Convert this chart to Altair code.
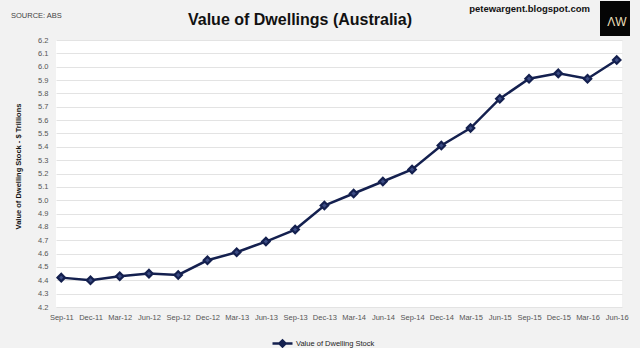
import altair as alt
import pandas as pd

quarters = ["Sep-11", "Dec-11", "Mar-12", "Jun-12", "Sep-12", "Dec-12", "Mar-13",
            "Jun-13", "Sep-13", "Dec-13", "Mar-14", "Jun-14", "Sep-14", "Dec-14",
            "Mar-15", "Jun-15", "Sep-15", "Dec-15", "Mar-16", "Jun-16"]
values = [4.42, 4.40, 4.43, 4.45, 4.44, 4.55, 4.61, 4.69, 4.78, 4.96, 5.05, 5.14,
          5.23, 5.41, 5.54, 5.76, 5.91, 5.95, 5.91, 6.05]
series_name = "Value of Dwelling Stock"
y_ticks = [4.2, 4.3, 4.4, 4.5, 4.6, 4.7, 4.8, 4.9, 5.0, 5.1, 5.2, 5.3, 5.4, 5.5,
           5.6, 5.7, 5.8, 5.9, 6.0, 6.1, 6.2]

df = pd.DataFrame({"quarter": quarters, "value": values, "series": series_name})

FONT = "Liberation Sans Narrow, Liberation Sans, Arial"
navy = "#14204f"

x_enc = alt.X("quarter:O", sort=quarters,
              scale=alt.Scale(type="point", padding=0.18),
              axis=alt.Axis(title=None, labelAngle=0, labelFont=FONT, labelFontSize=7.5,
                            labelColor="#555555", ticks=False, domain=False,
                            labelPadding=6, grid=False))
y_enc = alt.Y("value:Q",
              scale=alt.Scale(domain=[4.2, 6.2], nice=False, zero=False),
              axis=alt.Axis(values=y_ticks, format=".1f", grid=True, gridColor="#e3e3e3",
                            gridWidth=1, domain=False, ticks=False, labelPadding=8,
                            labelFont=FONT, labelFontSize=7.5, labelColor="#555555",
                            title="Value of Dwelling Stock - $ Trillions",
                            titleFont=FONT, titleFontSize=7.5, titleFontWeight="bold",
                            titleColor="#111111", titleX=-38, titleY=126,
                            titleAlign="center", titleBaseline="middle"))

base = alt.Chart(df)

line = base.mark_line(strokeWidth=2.5).encode(
    x=x_enc, y=y_enc,
    color=alt.Color("series:N", scale=alt.Scale(range=[navy]),
                    legend=alt.Legend(title=None, orient="none", legendX=215, legendY=292,
                                      symbolType="M-1,0L1,0M-0.3,0L0,-0.3L0.3,0L0,0.3Z",
                                      symbolSize=400, symbolStrokeWidth=2.5,
                                      symbolFillColor=navy, symbolStrokeColor=navy,
                                      labelFont=FONT, labelFontSize=7.5,
                                      labelColor="#222222", labelOffset=2)))
points = base.mark_point(shape="diamond", filled=False, size=55, strokeWidth=2.2,
                         color=navy, fill="#3d4d85", fillOpacity=1).encode(x=x_enc, y=y_enc)

deco = pd.DataFrame({"k": [0]})
dbase = alt.Chart(deco)
title = dbase.mark_text(text="Value of Dwellings (Australia)", font=FONT, fontSize=16,
                        fontWeight="bold", color="#111111", align="center",
                        baseline="alphabetic").encode(x=alt.value(244), y=alt.value(-15))
source = dbase.mark_text(text="SOURCE: ABS", font=FONT, fontSize=7.5, color="#444444",
                         align="left", baseline="middle").encode(x=alt.value(-45), y=alt.value(-24))
site = dbase.mark_text(text="petewargent.blogspot.com", font=FONT, fontSize=9.5,
                       fontWeight="bold", color="#111111", align="right",
                       baseline="alphabetic").encode(x=alt.value(534), y=alt.value(-28))
logo = dbase.mark_rect(color="#050505").encode(x=alt.value(544), x2=alt.value(574),
                                                y=alt.value(-39), y2=alt.value(-4))
logo_txt = dbase.mark_text(text="ΛW", font="Liberation Sans", fontSize=12, color="#e9dfb8",
                           align="center", baseline="middle").encode(x=alt.value(561), y=alt.value(-18))

chart = alt.layer(line, points, title, source, site, logo, logo_txt).properties(
    width=566, height=267,
    autosize=alt.AutoSizeParams(type="none"),
    padding={"left": 56, "top": 40, "right": 18, "bottom": 41},
    background="#f2f2f2",
).configure_view(fill="white", stroke=None)

chart.save("out.html", embed_options={"renderer": "svg", "actions": False})
